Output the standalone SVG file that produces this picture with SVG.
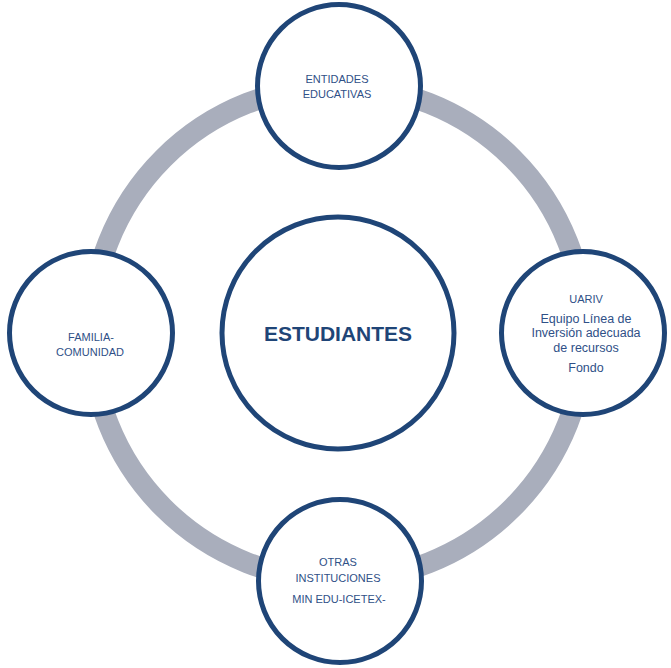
<svg xmlns="http://www.w3.org/2000/svg" width="671" height="668" viewBox="0 0 671 668">
<style>
.node{fill:#ffffff;stroke:#1F4577;stroke-width:5}
.t{font-family:"Liberation Sans",Arial,sans-serif;font-size:11px;fill:#2F5087;text-anchor:middle}
.s{font-size:12.5px}
.big{font-family:"Liberation Sans",Arial,sans-serif;font-size:21px;font-weight:bold;fill:#1F4577;text-anchor:middle}
</style>
<rect width="671" height="668" fill="#ffffff"/>
<g id="connectors">
<circle cx="338" cy="333" r="247" fill="none" stroke="#A9AEBC" stroke-width="21"/>
</g>
<g id="estudiantes">
<circle class="node" cx="338" cy="333" r="116"/>
<text class="big" x="338" y="341">ESTUDIANTES</text>
</g>
<g id="entidades">
<circle class="node" cx="339" cy="86" r="81.5"/>
<text class="t" x="337" y="83">ENTIDADES</text>
<text class="t" x="337" y="98">EDUCATIVAS</text>
</g>
<g id="uariv">
<circle class="node" cx="583" cy="333" r="81.5"/>
<text class="t" x="586" y="303">UARIV</text>
<text class="t s" x="586" y="323">Equipo Línea de</text>
<text class="t s" x="586" y="337">Inversión adecuada</text>
<text class="t s" x="586" y="352">de recursos</text>
<text class="t s" x="586" y="372">Fondo</text>
</g>
<g id="otras">
<circle class="node" cx="340" cy="581" r="81.5"/>
<text class="t" x="338" y="566">OTRAS</text>
<text class="t" x="338" y="582">INSTITUCIONES</text>
<text class="t" x="339" y="603">MIN EDU-ICETEX-</text>
</g>
<g id="familia">
<circle class="node" cx="91" cy="333" r="81.5"/>
<text class="t" x="91" y="341">FAMILIA-</text>
<text class="t" x="90" y="356">COMUNIDAD</text>
</g>
</svg>
